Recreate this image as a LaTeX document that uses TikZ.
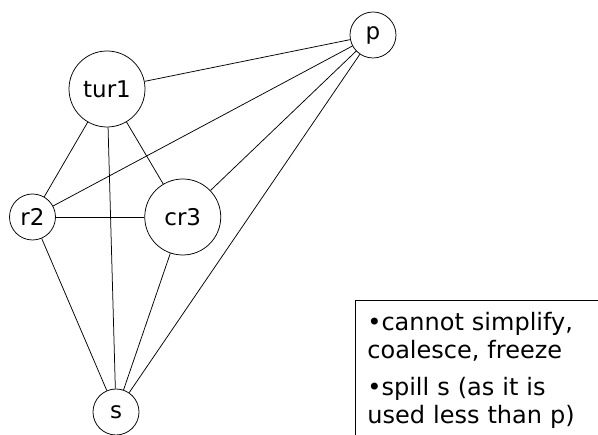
\documentclass[tikz,border=0pt]{standalone}
\usepackage{fontspec}
\setmainfont{DejaVu Sans}
\usetikzlibrary{positioning}

\tikzset{
  vertex/.style={draw, circle, inner sep=0pt, minimum size=46pt, font=\fontsize{23}{28}\selectfont},
  bigvertex/.style={vertex, minimum size=76pt},
  notebox/.style={draw, anchor=north west, text width=250pt, align=left, inner xsep=12pt, inner ysep=11.8pt, font=\fontsize{24}{28}\selectfont}
}

\begin{document}
\begin{tikzpicture}[x=1pt, y=-1pt, line width=0.75pt]
\useasboundingbox (0,0) rectangle (598,435);
\node[bigvertex] (tur1) at (107,89) {tur1};
\node[vertex] (r2) at (32.5,217) {r2};
\node[bigvertex, right=88.5pt of r2] (cr3) {cr3};
\node[vertex] (p) at (373,35) {p};
\node[vertex] (s) at (116,412) {s};
\draw (tur1) -- (p);
\draw (tur1) -- (r2);
\draw (tur1) -- (cr3);
\draw (tur1) -- (s);
\draw (r2) -- (p);
\draw (r2) -- (cr3);
\draw (r2) -- (s);
\draw (cr3) -- (p);
\draw (cr3) -- (s);
\draw (p) -- (s);
\node[notebox] (note) at (355,300) {•cannot simplify,\\ coalesce, freeze\par\vspace{9pt}
  •spill s (as it is\\ used less than p)\par\vspace*{20pt}};
\end{tikzpicture}
\end{document}
